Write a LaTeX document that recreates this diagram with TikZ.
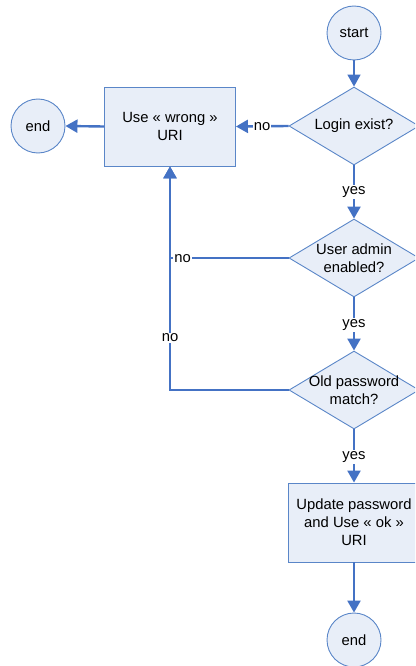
\documentclass[tikz,border=0pt]{standalone}
\usepackage{fontspec}
\setmainfont{Liberation Sans}
\usetikzlibrary{arrows.meta,shapes.geometric}
\definecolor{bord}{HTML}{5A86C8}
\definecolor{conn}{HTML}{4472C4}
\definecolor{fillc}{HTML}{E8EEF8}
\tikzset{
  base/.style={draw=bord,fill=fillc,line width=0.9pt,inner sep=0pt},
  circ/.style={base,circle,minimum size=54pt},
  rectbox/.style={base,rectangle,minimum width=131pt,minimum height=79pt,align=center},
  dia/.style={base,diamond,minimum width=130pt,minimum height=78pt},
  txt/.style={align=center,inner sep=0pt},
  conline/.style={draw=conn,line width=2.4pt},
  arr/.style={conline,-{Triangle[length=12pt,width=13pt]}},
  lbl/.style={fill=white,inner sep=1pt},
}
\begin{document}
\begin{tikzpicture}[x=1pt,y=-1pt,font=\fontsize{14.8}{18}\selectfont]
\useasboundingbox (0,0) rectangle (415,666);
\clip (0,0) rectangle (415,666);
\node[circ] (start) at (354,33) {start};
\node[dia] (d1) at (354,126) {};
\node[txt] (t1) at (d1) {Login exist?};
\node[rectbox] (wrong) at (170,126.5) {Use « wrong »\\URI};
\node[circ] (end1) at (38,126) {end};
\node[dia] (d2) at (354,258) {};
\node[txt] (t2) at (d2) {User admin\\enabled?};
\node[dia] (d3) at (354,390) {};
\node[txt] (t3) at (d3) {Old password\\match?};
\node[rectbox] (ok) at (354,522.5) {Update password\\and Use « ok »\\URI};
\node[circ] (end2) at (354,640) {end};

\draw[arr,line width=1.6pt] (start) -- (d1.north);
\draw[arr] (d1.west) -- (wrong.east);
\draw[arr] (wrong.west) -- (end1.east);
\draw[arr] (d1.south) -- (d2.north);
\draw[arr] (d2.south) -- (d3.north);
\draw[arr] (d3.south) -- (ok.north);
\draw[arr] (ok.south) -- (end2.north);
\draw[arr] (d2.west) -| (wrong.south);
\draw[arr] (d3.west) -| (wrong.south);

\node[lbl] (n1) at (262,126.5) {no};
\node[lbl] (n2) at (182.5,258.5) {no};
\node[lbl] (n3) at (170,338) {no};
\node[lbl] (y1) at (354,192) {yes};
\node[lbl] (y2) at (354,325) {yes};
\node[lbl] (y3) at (354,457) {yes};
\end{tikzpicture}
\end{document}
